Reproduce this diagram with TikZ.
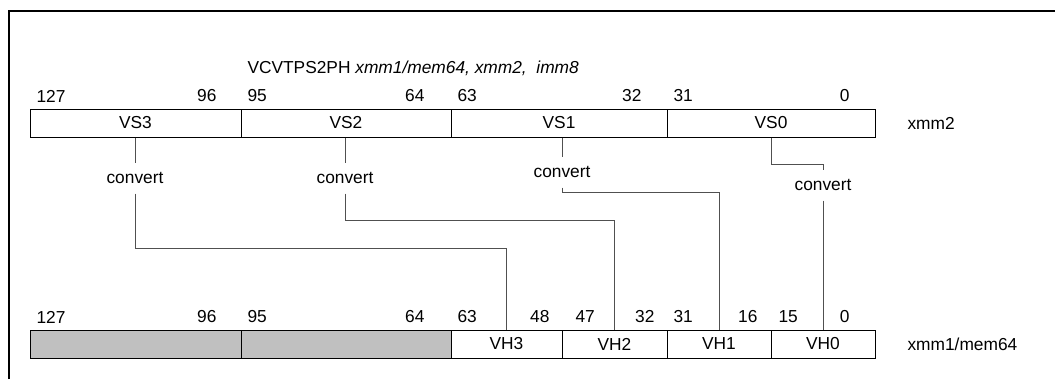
\documentclass[tikz,border=0pt]{standalone}
\usepackage{fontspec}
\setmainfont{Liberation Sans}
\newcommand\regfont{\fontsize{13}{15.5}\selectfont}
\definecolor{regray}{RGB}{192,192,192}
\definecolor{wiregray}{RGB}{80,80,80}
\tikzset{every picture/.style={line width=0.75pt}}
\tikzset{
  field/.style={draw, minimum height=21pt, inner sep=0pt, font=\regfont},
  bits/.style={inner sep=0pt, font=\regfont},
  conv/.style={minimum height=22.5pt, inner sep=0pt, font=\regfont},
  wire/.style={draw=wiregray}
}

\begin{document}
\begin{tikzpicture}[x=0.75pt,y=0.75pt,yscale=-1]
\useasboundingbox (0,0) rectangle (1055,379);

%Straight Lines (frame)
\draw [line width=1.5pt] (8.5,379) -- (8.5,11) -- (1055,11);

% Text Node
\node (title) [bits, anchor=west] at (247,68) {VCVTPS2PH \textit{xmm1/mem64, xmm2,}\ \ \textit{imm8}};

%Shape: Rectangle (xmm2)
\node (vs3) [field, minimum width=158.25pt] at (135.5,123) {VS3};
\node (vs2) [field, minimum width=157.5pt] at (346,123) {VS2};
\node (vs1) [field, minimum width=162pt] at (559,123) {VS1};
\node (vs0) [field, minimum width=156pt] at (771,123) {VS0};

%Shape: Rectangle (xmm1/mem64)
\node (gr1) [field, fill=regray, minimum width=158.25pt] at (135.5,344) {};
\node (gr0) [field, fill=regray, minimum width=157.5pt] at (346,344) {};
\node (vh3) [field, minimum width=83.25pt] at (506.5,344) {VH3};
\node (vh2) [field, minimum width=78.75pt] at (614.5,344) {VH2};
\node (vh1) [field, minimum width=78pt] at (719,344) {VH1};
\node (vh0) [field, minimum width=78pt] at (823,344) {VH0};

% Text Node
\node (nm2) [bits, anchor=west] at (907,123) {xmm2};
\node (nm1) [bits, anchor=west] at (907,344) {xmm1/mem64};

% Bit numbers
\foreach \t/\x in {127/36, 95/247, 63/457, 31/673}
  \node (tl\t) [bits, anchor=west] at (\x,96) {\t};
\foreach \t/\x in {96/217, 64/425, 32/642, 0/850}
  \node (tr\t) [bits, anchor=east] at (\x,96) {\t};
\foreach \t/\x in {127/36, 95/247, 63/457, 47/575, 31/673, 15/778}
  \node (bl\t) [bits, anchor=west] at (\x,317) {\t};
\foreach \t/\x in {96/217, 64/425, 48/550, 32/655, 16/758, 0/850}
  \node (br\t) [bits, anchor=east] at (\x,317) {\t};

% Text Node
\node (cv3) [conv] at (135,178) {convert};
\node (cv2) [conv] at (345,178) {convert};
\node (cv1) [conv] at (562,172) {convert};
\node (cv0) [conv] at (823,185) {convert};

%Straight Lines
\draw [wire] (cv3.north |- vs3.south) -- (cv3.north);
\draw [wire] (cv3.south) -- (cv3.south |- 0,248) -| (vh3.north);
\draw [wire] (cv2.north |- vs2.south) -- (cv2.north);
\draw [wire] (cv2.south) -- (cv2.south |- 0,220) -| (vh2.north);
\draw [wire] (cv1.north |- vs1.south) -- (cv1.north);
\draw [wire] (cv1.south) -- (cv1.south |- 0,192) -| (vh1.north);
\draw [wire] (vs0.south) -- (vs0.south |- 0,164) -| (cv0.north);
\draw [wire] (cv0.south) -- (vh0.north);
\end{tikzpicture}
\end{document}
